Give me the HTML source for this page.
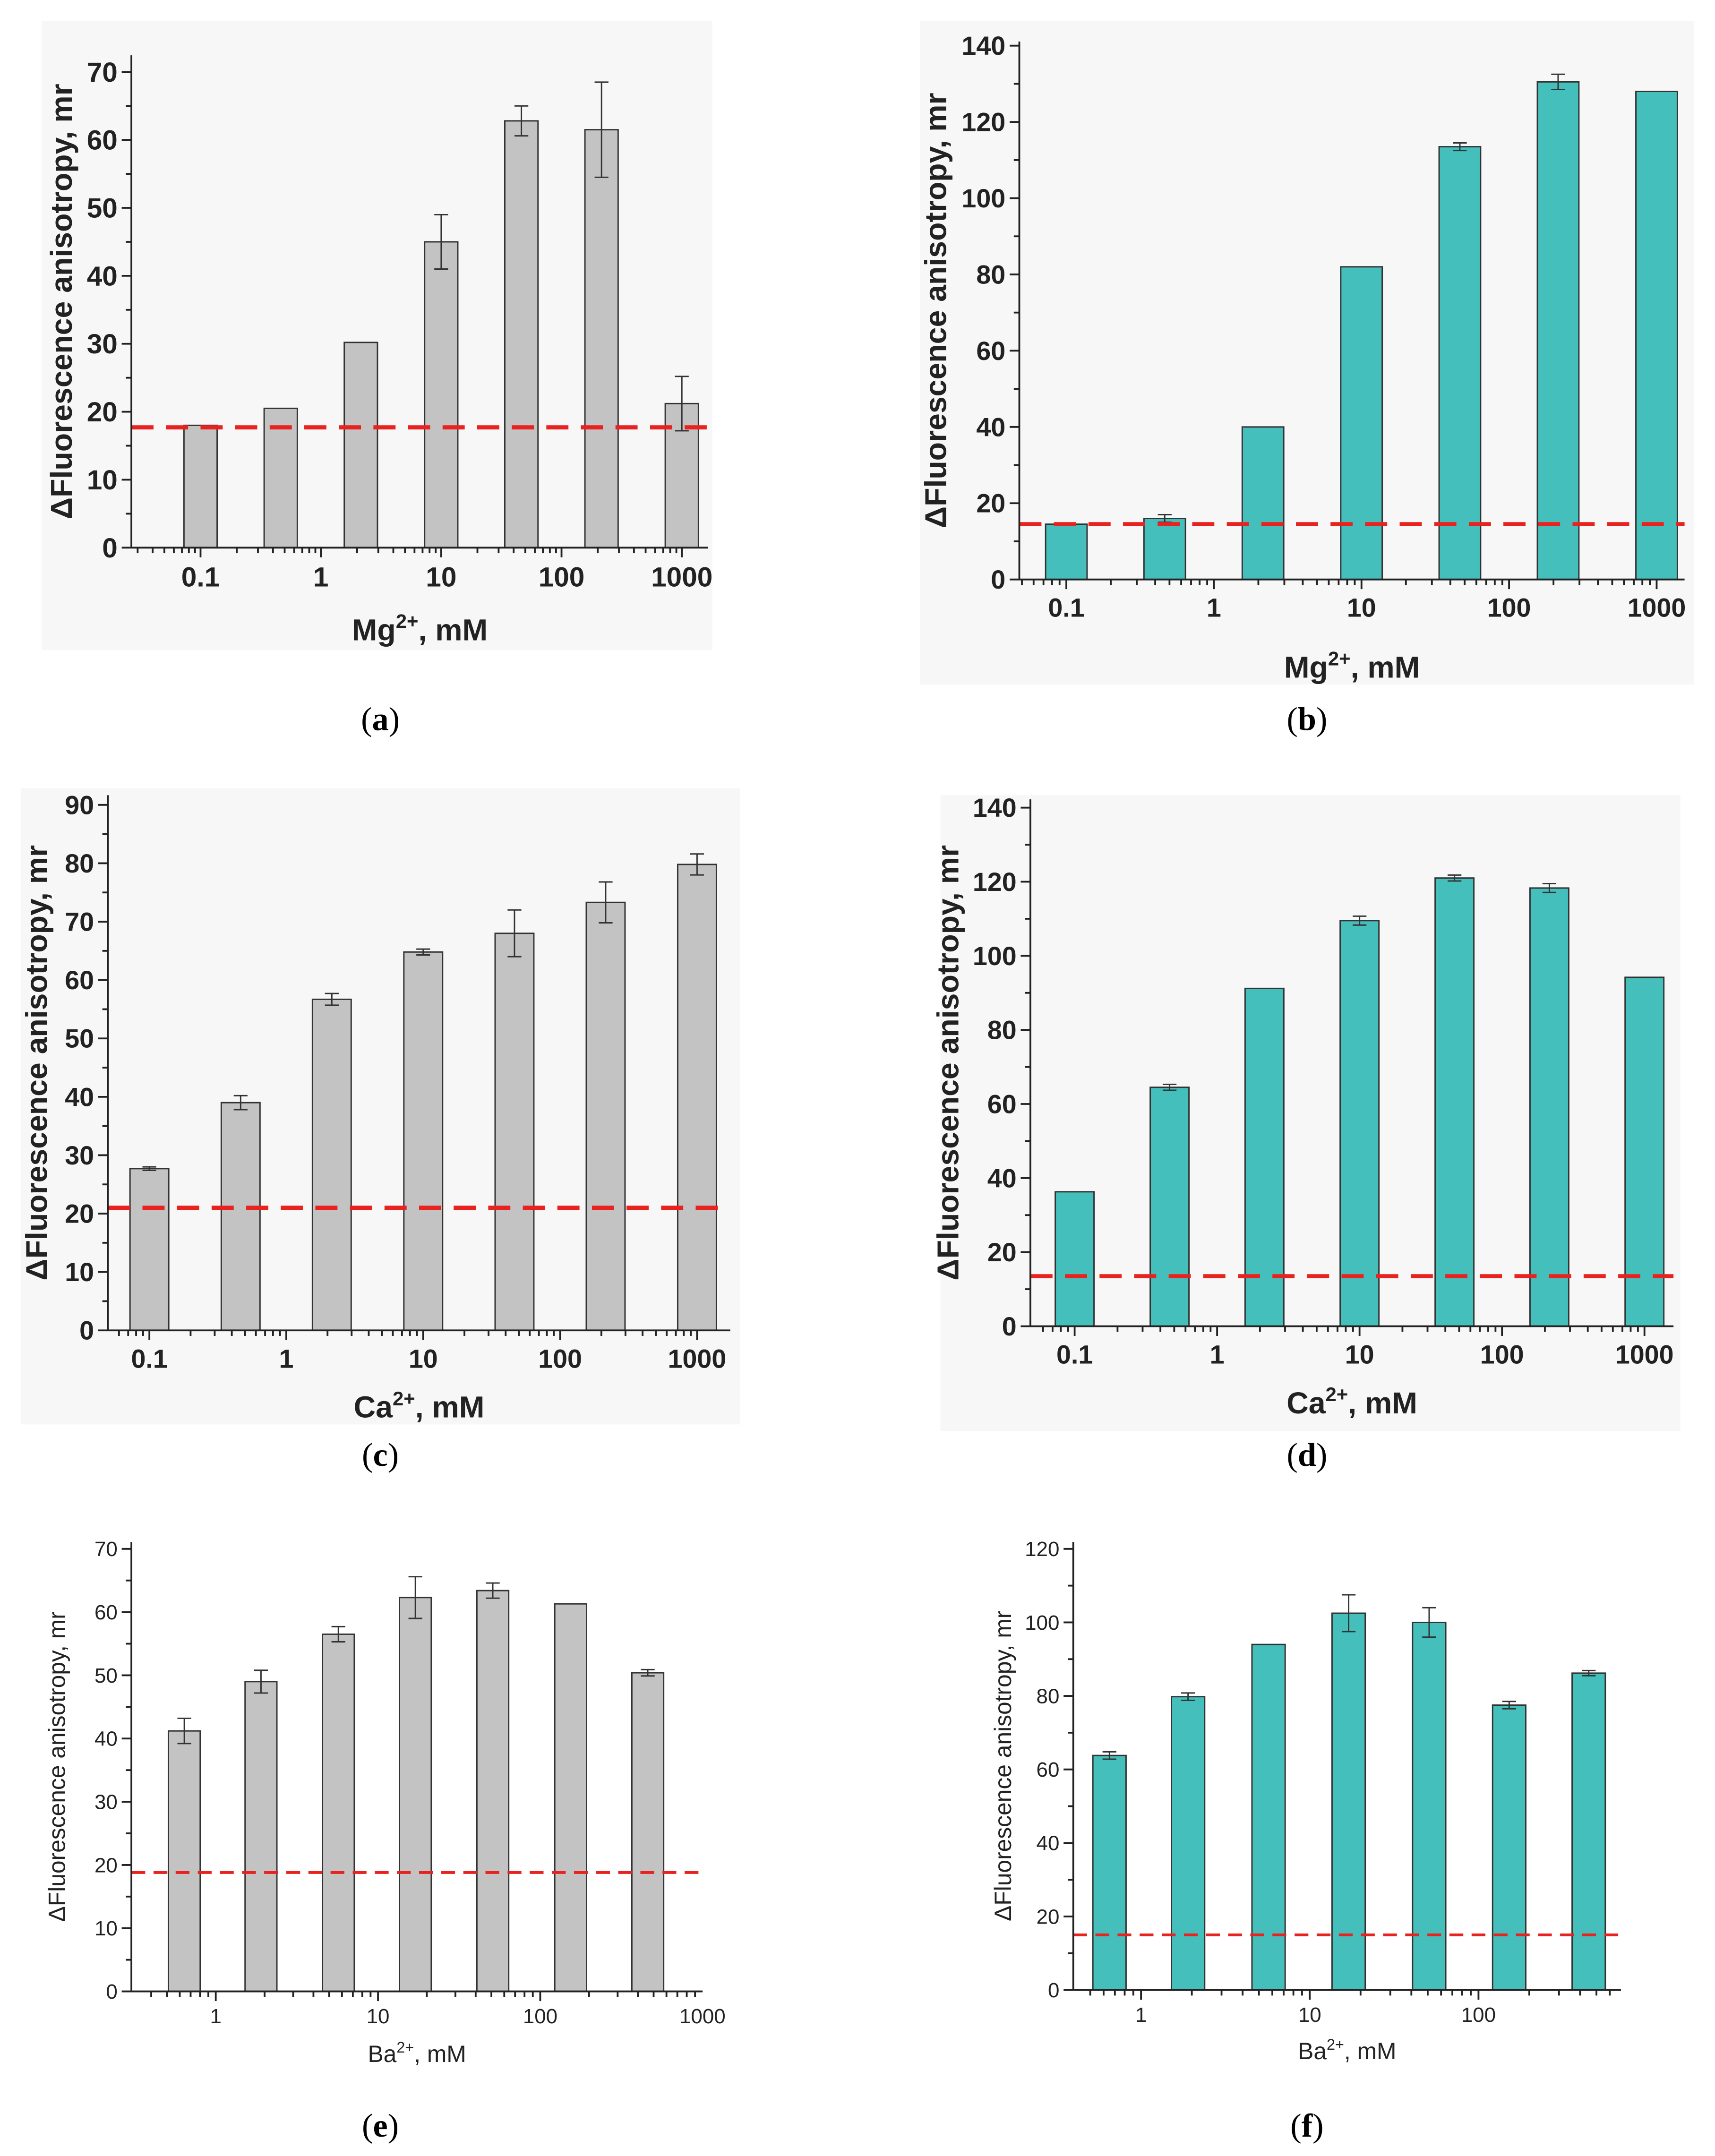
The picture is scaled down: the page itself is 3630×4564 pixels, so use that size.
<!DOCTYPE html>
<html><head><meta charset="utf-8"><style>
html,body{margin:0;padding:0;background:#fff}
svg{display:block}
text{font-family:"Liberation Sans",Arial,sans-serif}
.cap{font-family:"Liberation Serif",serif;font-size:24px}
</style></head><body>
<svg id="fig" width="3630" height="4564" viewBox="0 0 1240 1559" xmlns="http://www.w3.org/2000/svg">
<rect x="30" y="15" width="485" height="455" fill="#f7f7f7"/>
<rect x="665" y="15" width="560" height="480" fill="#f7f7f7"/>
<rect x="15" y="570" width="520" height="460" fill="#f7f7f7"/>
<rect x="680" y="575" width="535" height="460" fill="#f7f7f7"/>
<text class="cap" x="275" y="528" text-anchor="middle">(<tspan font-weight="bold">a</tspan>)</text>
<text class="cap" x="945" y="528" text-anchor="middle">(<tspan font-weight="bold">b</tspan>)</text>
<text class="cap" x="275" y="1060" text-anchor="middle">(<tspan font-weight="bold">c</tspan>)</text>
<text class="cap" x="945" y="1060" text-anchor="middle">(<tspan font-weight="bold">d</tspan>)</text>
<text class="cap" x="275" y="1545" text-anchor="middle">(<tspan font-weight="bold">e</tspan>)</text>
<text class="cap" x="945" y="1545" text-anchor="middle">(<tspan font-weight="bold">f</tspan>)</text>
</svg>
<script>
// Panel data
const aConc=[0.1,0.464,2.15,10,46.4,215,1000];
const aVals=[18,20.5,30.2,45,62.8,61.5,21.2];
const aErr=[0,0,0,4,2.2,7,4];
const aBase=17.7;
const aYTicks=[0,10,20,30,40,50,60,70];
const aXTicks=[0.1,1,10,100,1000];
const aXTickLabels=["0.1","1","10","100","1000"];

const bConc=[0.1,0.464,2.15,10,46.4,215,1000];
const bVals=[14.5,16,40,82,113.5,130.5,128];
const bErr=[0,1,0,0,1,2,0];
const bBase=14.5;
const bYTicks=[0,20,40,60,80,100,120,140];
const bXTicks=[0.1,1,10,100,1000];
const bXTickLabels=["0.1","1","10","100","1000"];

const cConc=[0.1,0.464,2.15,10,46.4,215,1000];
const cVals=[27.7,39,56.7,64.8,68,73.3,79.8];
const cErr=[0.3,1.2,1,0.5,4,3.5,1.8];
const cBase=21;
const cYTicks=[0,10,20,30,40,50,60,70,80,90];
const cXTicks=[0.1,1,10,100,1000];
const cXTickLabels=["0.1","1","10","100","1000"];

const dConc=[0.1,0.464,2.15,10,46.4,215,1000];
const dVals=[36.3,64.5,91.2,109.5,121,118.3,94.2];
const dErr=[0,0.8,0,1.2,0.8,1.2,0];
const dBase=13.5;
const dYTicks=[0,20,40,60,80,100,120,140];
const dXTicks=[0.1,1,10,100,1000];
const dXTickLabels=["0.1","1","10","100","1000"];

const eConc=[0.64,1.9,5.7,17,51,154,460];
const eVals=[41.2,49,56.5,62.3,63.4,61.3,50.4];
const eErr=[2,1.8,1.2,3.3,1.2,0,0.5];
const eBase=18.8;
const eYTicks=[0,10,20,30,40,50,60,70];
const eXTicks=[1,10,100,1000];
const eXTickLabels=["1","10","100","1000"];

const fConc=[0.65,1.9,5.7,17,51,152,450];
const fVals=[63.8,79.8,94,102.5,100,77.5,86.2];
const fErr=[1,1,0,5,4,1,0.7];
const fBase=15;
const fYTicks=[0,20,40,60,80,100,120];
const fXTicks=[1,10,100];
const fXTickLabels=["1","10","100"];

const NS="http://www.w3.org/2000/svg";
const svg=document.getElementById('fig');
function mk(tag,attrs,parent){const e=document.createElementNS(NS,tag);for(const k in attrs)e.setAttribute(k,attrs[k]);(parent||svg).appendChild(e);return e;}

function panel(id,cfg,conc,vals,err,base,yt,xt,xtl){
  const g=mk('g',{});
  
  
  const ys=v=>cfg.y0-(v-cfg.ymin)/(cfg.ymax-cfg.ymin)*(cfg.y0-cfg.y1);
  const xs=c=>cfg.xref+(Math.log10(c)-cfg.lref)*cfg.dec;
  const fw=cfg.bold?'bold':'normal';
  // bars
  conc.forEach((c,i)=>{
    const cx=xs(c), top=ys(vals[i]);
    const r=mk('rect',{x:cx-cfg.bw/2,y:top,width:cfg.bw,height:cfg.y0-top,fill:cfg.fill,stroke:'#333','stroke-width':1},g);
    
    
    if(err[i]>0){
      const eg=mk('g',{stroke:'#333','stroke-width':1},g);
      
      
      const hi=ys(vals[i]+err[i]),lo=ys(vals[i]-err[i]);
      mk('line',{x1:cx,x2:cx,y1:hi,y2:lo},eg);
      mk('line',{x1:cx-5,x2:cx+5,y1:hi,y2:hi},eg);
      mk('line',{x1:cx-5,x2:cx+5,y1:lo,y2:lo},eg);
    }
  });
  // baseline
  const bl=mk('line',{x1:cfg.x0,x2:cfg.xend,y1:ys(base),y2:ys(base),stroke:'#e8231f','stroke-width':cfg.bold?3:2,'stroke-dasharray':cfg.bold?'16,9':'10,6'},g);
  
  
  // axes
  const ax=mk('g',{stroke:'#222','stroke-width':1.3},g);
  
  
  mk('line',{x1:cfg.x0,x2:cfg.x0,y1:cfg.y0,y2:cfg.ytop},ax);
  mk('line',{x1:cfg.x0,x2:cfg.xend,y1:cfg.y0,y2:cfg.y0},ax);
  yt.forEach((v,i)=>{
    const y=ys(v);
    mk('line',{x1:cfg.x0-7,x2:cfg.x0,y1:y,y2:y},ax);
    if(i<yt.length-1){const ym=ys((v+yt[i+1])/2);mk('line',{x1:cfg.x0-4,x2:cfg.x0,y1:ym,y2:ym},ax);}
    const t=mk('text',{x:cfg.x0-10,y:y+cfg.fs*0.35,'text-anchor':'end','font-size':cfg.fs,'font-weight':fw,fill:'#222'},g);
    t.textContent=v;
    
    
  });
  // x ticks (log)
  const lmin=Math.floor(cfg.lref-1),lmax=Math.ceil(Math.log10(xt[xt.length-1])+1);
  for(let d=lmin;d<=lmax;d++){
    for(let m=1;m<10;m++){
      const x=cfg.xref+(d+Math.log10(m)-cfg.lref)*cfg.dec;
      if(x<cfg.x0+1||x>cfg.xend-1)continue;
      mk('line',{x1:x,x2:x,y1:cfg.y0,y2:cfg.y0+(m===1?7:4)},ax);
    }
  }
  xt.forEach((c,i)=>{
    const t=mk('text',{x:xs(c),y:cfg.y0+cfg.fs+8,'text-anchor':'middle','font-size':cfg.fs,'font-weight':fw,fill:'#222'},g);
    t.textContent=xtl[i];
    
    
  });
  // x label
  const xl=mk('text',{x:(cfg.x0+cfg.xend)/2,y:cfg.xly,'text-anchor':'middle','font-size':cfg.lfs,'font-weight':fw,fill:'#222'},g);
  
  
  const t1=mk('tspan',{},xl);t1.textContent=cfg.ion;
  const t2=mk('tspan',{dy:-cfg.lfs*0.4,'font-size':cfg.lfs*0.65},xl);t2.textContent='2+';
  const t3=mk('tspan',{dy:cfg.lfs*0.4},xl);t3.textContent=', mM';
  // y label
  const yl=mk('text',{x:0,y:0,'text-anchor':'middle','font-size':cfg.lfs,'font-weight':fw,fill:'#222',transform:'translate('+cfg.ylx+','+((cfg.y0+cfg.ytop)/2)+') rotate(-90)'},g);
  yl.textContent='\u0394Fluorescence anisotropy, mr';
  
  
}
const GRAY='#c3c3c3',TEAL='#45bfbb';
panel('a',{x0:95,xend:512,y0:396,y1:52,ytop:40,ymin:0,ymax:70,xref:145,lref:-1,dec:87,bw:24,fill:GRAY,bold:true,fs:20,lfs:22,ion:'Mg',xly:463,ylx:52},aConc,aVals,aErr,aBase,aYTicks,aXTicks,aXTickLabels);
panel('b',{x0:737,xend:1218,y0:419,y1:33,ytop:30,ymin:0,ymax:140,xref:771,lref:-1,dec:106.7,bw:30,fill:TEAL,bold:true,fs:19,lfs:22,ion:'Mg',xly:490,ylx:684},bConc,bVals,bErr,bBase,bYTicks,bXTicks,bXTickLabels);
panel('c',{x0:78,xend:528,y0:962,y1:582,ytop:575,ymin:0,ymax:90,xref:108,lref:-1,dec:99,bw:28,fill:GRAY,bold:true,fs:19,lfs:22,ion:'Ca',xly:1025,ylx:34},cConc,cVals,cErr,cBase,cYTicks,cXTicks,cXTickLabels);
panel('d',{x0:745,xend:1210,y0:959,y1:584,ytop:578,ymin:0,ymax:140,xref:777,lref:-1,dec:103,bw:28,fill:TEAL,bold:true,fs:19,lfs:22,ion:'Ca',xly:1022,ylx:693},dConc,dVals,dErr,dBase,dYTicks,dXTicks,dXTickLabels);
panel('e',{x0:95,xend:508,y0:1440,y1:1120,ytop:1115,ymin:0,ymax:70,xref:156,lref:0,dec:117.3,bw:23,fill:GRAY,bold:false,fs:15,lfs:17,ion:'Ba',xly:1491,ylx:47},eConc,eVals,eErr,eBase,eYTicks,eXTicks,eXTickLabels);
panel('f',{x0:776,xend:1172,y0:1439,y1:1120,ytop:1115,ymin:0,ymax:120,xref:825,lref:0,dec:122,bw:24,fill:TEAL,bold:false,fs:15,lfs:17,ion:'Ba',xly:1489,ylx:731},fConc,fVals,fErr,fBase,fYTicks,fXTicks,fXTickLabels);
</script>
</body></html>
